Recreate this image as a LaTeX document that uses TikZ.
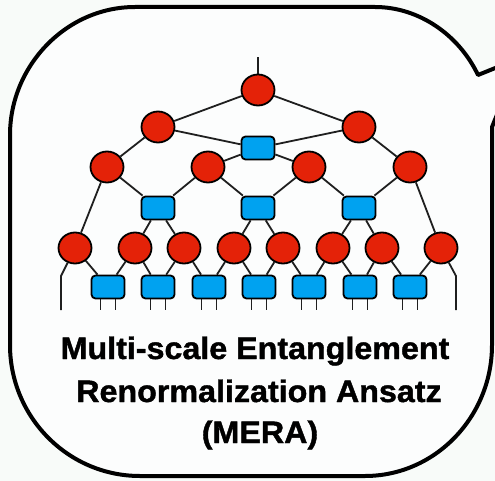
\documentclass[tikz,border=0pt]{standalone}
\usepackage{fontspec}
\newfontfamily\labelfont[FakeStretch=1.04,BoldFeatures={FakeBold=1.3}]{Liberation Sans}
\usetikzlibrary{shapes.geometric,backgrounds}
\definecolor{merared}{RGB}{228,34,8}
\definecolor{merablue}{RGB}{0,162,240}
\definecolor{paper}{RGB}{248,251,249}
\begin{document}
\begin{tikzpicture}[x=1pt,y=-1pt,
  iso/.style={ellipse, draw=black, line width=1.8pt, fill=merared, minimum width=33pt, minimum height=31pt, inner sep=0pt},
  dis/.style={rectangle, rounded corners=4pt, draw=black, line width=1.8pt, fill=merablue, minimum width=33pt, minimum height=23pt, inner sep=0pt},
  wire/.style={line width=1.8pt, draw=black!88},
  bubble/.style={line width=4pt, draw=black, line join=round},
  caption/.style={font=\labelfont\bfseries\fontsize{31}{42}\selectfont, anchor=base, inner sep=0pt}]
\useasboundingbox (0,0) rectangle (495,481);
% nodes
\node[iso] (r) at (258,90) {};
\node[iso] (a1) at (158,127) {};
\node[iso] (a2) at (359,127) {};
\node[dis] (m) at (258,148) {};
\node[iso] (c1) at (107,167) {};
\node[iso] (c2) at (208,167) {};
\node[iso] (c3) at (309,167) {};
\node[iso] (c4) at (410,167) {};
\node[dis] (d1) at (158,208) {};
\node[dis] (d2) at (258,208) {};
\node[dis] (d3) at (359,208) {};
\foreach \x [count=\i] in {75,135,184,234,283,333,382,441}
  \node[iso] (e\i) at (\x,248) {};
\foreach \x [count=\i] in {108,158,209,259,309,360,410}{
  \node[dis] (f\i) at (\x,287) {};
  \coordinate (fl\i) at (\x-7.5,310);
  \coordinate (fr\i) at (\x+7.5,310);
}
\coordinate (top) at (258,57);
\coordinate (k1) at (61,276);
\coordinate (l1) at (61,310);
\coordinate (k2) at (456,276);
\coordinate (l2) at (456,310);
\begin{pgfonlayer}{background}
\fill[paper] (0,0) rectangle (495,481);
\begin{scope}
\clip (0,0) rectangle (495,481);
\draw[bubble, fill=white!60!paper] (10,135) -- (10,345) .. controls (10,417) and (68,476) .. (140,476)
  -- (365,476) .. controls (435,476) and (492,417) .. (492,345)
  -- (492,127) -- (520,58) -- (478,75) .. controls (459,35) and (419,7) .. (375,7)
  -- (135,7) .. controls (66,7) and (10,66) .. (10,135) -- cycle;
\end{scope}
\draw[wire] (r) -- (top);
\draw[wire] (r) -- (a1);
\draw[wire] (r) -- (a2);
\draw[wire] (a1) -- (m);
\draw[wire] (a2) -- (m);
\draw[wire] (a1) -- (c1);
\draw[wire] (a2) -- (c4);
\draw[wire] (m) -- (c2);
\draw[wire] (m) -- (c3);
\draw[wire] (c1) -- (d1);
\draw[wire] (c2) -- (d1);
\draw[wire] (c2) -- (d2);
\draw[wire] (c3) -- (d2);
\draw[wire] (c3) -- (d3);
\draw[wire] (c4) -- (d3);
\draw[wire] (c1) -- (e1);
\draw[wire] (c4) -- (e8);
\draw[wire] (d1) -- (e2);
\draw[wire] (d1) -- (e3);
\draw[wire] (d2) -- (e4);
\draw[wire] (d2) -- (e5);
\draw[wire] (d3) -- (e6);
\draw[wire] (d3) -- (e7);
\foreach \i [evaluate=\i as \j using int(\i+1)] in {1,...,7}{
  \draw[wire] (e\i) -- (f\i);
  \draw[wire] (e\j) -- (f\i);
  \draw[wire] (f\i.south -| fl\i) -- (fl\i);
  \draw[wire] (f\i.south -| fr\i) -- (fr\i);
}
\draw[wire] (e1) -- (k1) -- (l1);
\draw[wire] (e8) -- (k2) -- (l2);
\end{pgfonlayer}
% caption
\node[caption] (t1) at (255,359) {Multi-scale Entanglement};
\node[caption] (t2) at (259,402) {Renormalization Ansatz};
\node[caption] (t3) at (260,443) {(MERA)};
\end{tikzpicture}
\end{document}
